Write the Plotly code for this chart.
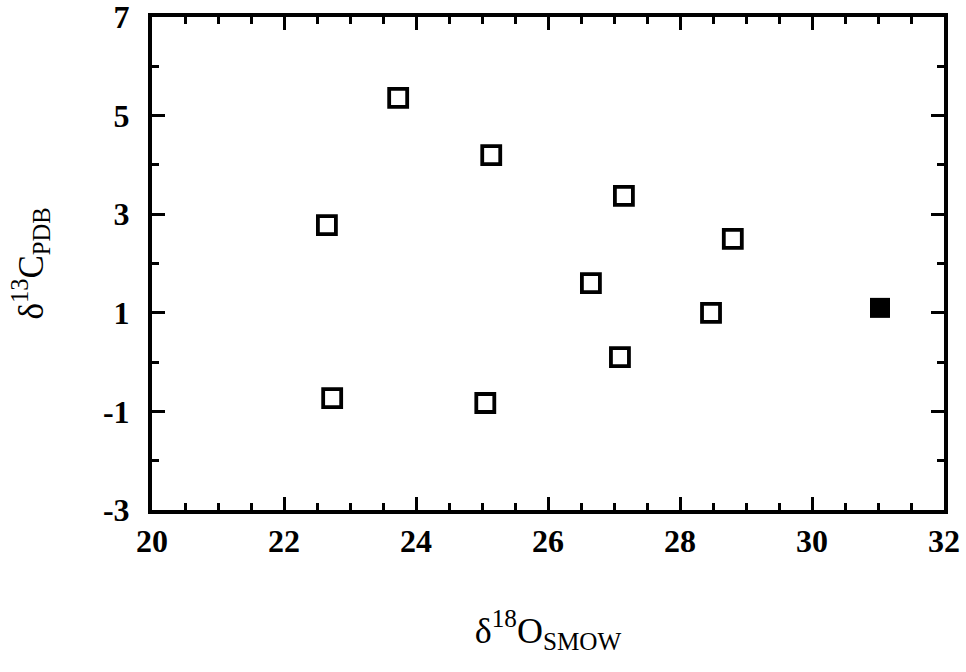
import plotly.graph_objects as go

# open squares
x_open = [22.65, 22.73, 23.73, 25.14, 25.05, 27.15, 26.65, 27.09, 28.47, 28.80]
y_open = [2.78, -0.73, 5.36, 4.20, -0.83, 3.37, 1.60, 0.10, 1.00, 2.50]
# filled square
x_fill = [31.03]
y_fill = [1.10]

x_ticks = [20, 22, 24, 26, 28, 30, 32]
y_ticks = [-3, -1, 1, 3, 5, 7]

serif = "Liberation Serif"

fig = go.Figure()
fig.add_trace(go.Scatter(
    x=x_open, y=y_open, mode="markers",
    marker=dict(symbol="square-open", size=18, color="black",
                line=dict(width=3.8, color="black")),
    showlegend=False, hoverinfo="skip"))
fig.add_trace(go.Scatter(
    x=x_fill, y=y_fill, mode="markers",
    marker=dict(symbol="square", size=20, color="black",
                line=dict(width=0)),
    showlegend=False, hoverinfo="skip"))

axis_common = dict(
    showgrid=False, zeroline=False, showline=True, linecolor="black",
    linewidth=4, mirror="ticks", ticks="inside", tickcolor="black",
    tickwidth=3, ticklen=13, automargin=False, ticklabeloverflow="allow",
    tickfont=dict(family=serif, size=32, color="black", weight="bold"),
)

fig.update_xaxes(
    range=[20, 32], tickvals=x_ticks, ticktext=[str(v) for v in x_ticks],
    minor=dict(dtick=0.5, tick0=20, ticks="inside", ticklen=7,
               tickwidth=3, tickcolor="black", showgrid=False),
    ticklabelstandoff=0,
    title=dict(text="δ<sup>18</sup>O<sub>SMOW</sub>",
               font=dict(family=serif, size=36, color="black"), standoff=60),
    **axis_common)
fig.update_yaxes(
    range=[-3, 7], tickvals=y_ticks, ticktext=[str(v) for v in y_ticks],
    minor=dict(dtick=1, tick0=-3, ticks="inside", ticklen=7,
               tickwidth=3, tickcolor="black", showgrid=False),
    ticklabelstandoff=12,
    title=dict(text="δ<sup>13</sup>C<sub>PDB</sub>",
               font=dict(family=serif, size=35, color="black"), standoff=50),
    **axis_common)

fig.update_layout(
    width=966, height=672,
    margin=dict(l=152, r=22, t=17, b=162),
    paper_bgcolor="white", plot_bgcolor="white",
)

fig.write_html("out.html")
